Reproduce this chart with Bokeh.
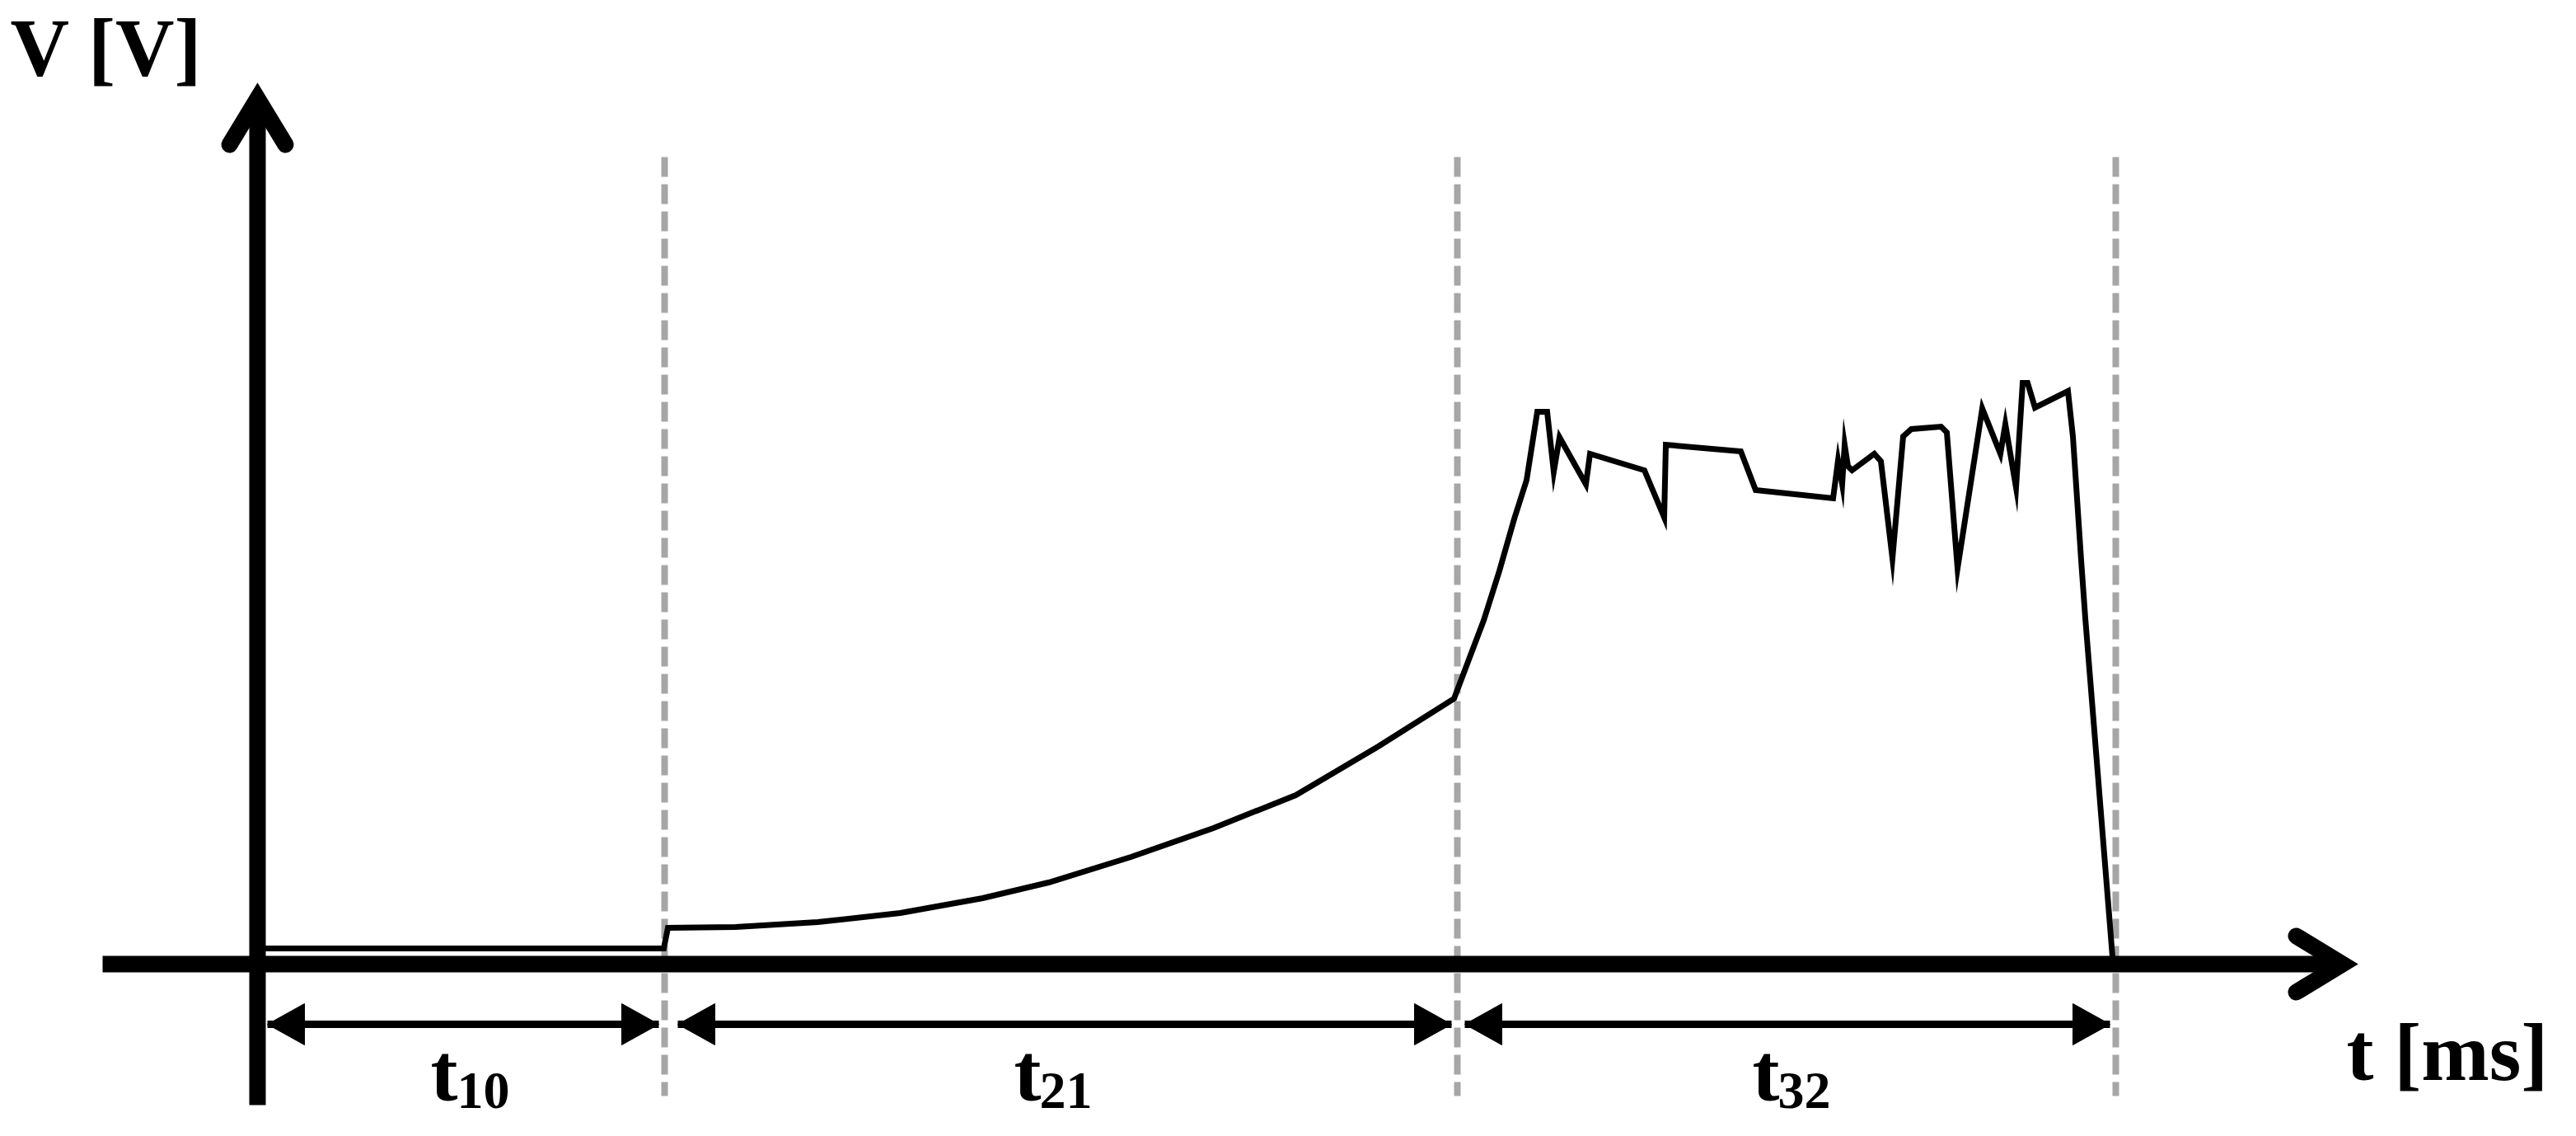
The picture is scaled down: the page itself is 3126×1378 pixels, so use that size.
from bokeh.plotting import figure
from bokeh.models import Range1d, Label
from bokeh.embed import file_html
from bokeh.resources import INLINE

# ---- data (arbitrary units: t [ms], V [V]) ----
t_ms = [0.0, 24.65, 24.9, 29.0, 34.0, 39.0, 44.0, 48.0, 53.0, 58.0, 63.0, 68.0, 72.6,
        74.4, 75.35, 76.25, 77.0, 77.65, 78.25, 78.65, 79.0, 80.6, 80.85, 84.15, 85.35,
        85.45, 90.0, 90.9, 95.6, 95.9, 96.15, 96.3, 96.5, 96.75, 98.1, 98.5, 99.2,
        99.85, 100.35, 102.15, 102.5, 103.15, 104.65, 105.75, 106.05, 106.7, 107.1,
        107.4, 107.85, 109.85, 110.15, 110.65, 110.9, 112.55]
v_V = [0.95, 0.95, 2.2, 2.25, 2.55, 3.1, 4.0, 4.95, 6.5, 8.25, 10.25, 13.2, 16.1,
       20.85, 23.85, 27.0, 29.35, 33.5, 33.5, 29.85, 31.95, 29.1, 30.95, 29.95, 27.1,
       31.5, 31.1, 28.75, 28.25, 30.55, 29.1, 31.5, 30.2, 29.95, 30.95, 30.5, 24.6,
       32.0, 32.45, 32.6, 32.25, 24.0, 33.7, 30.95, 32.75, 28.9, 35.25,
       35.25, 33.75, 34.75, 32.0, 24.5, 21.0, 0.45]

event_t = [24.7, 72.8, 112.75]          # t1, t2, t3
interval_start = [0.0, 24.7, 72.8]
interval_subs = ["10", "21", "32"]
y_label = "V [V]"
x_label = "t [ms]"

# ---- figure: 20 px per unit in both directions ----
p = figure(width=3110, height=1362, output_backend="svg", toolbar_location=None,
           x_range=Range1d(-15.6, 139.9), y_range=Range1d(-9.65, 58.45),
           x_axis_type=None, y_axis_type=None, min_border=0)
p.outline_line_alpha = 0

# dashed event lines
p.segment(x0=event_t, y0=[48.95] * 3, x1=event_t, y1=[-8.0] * 3,
          line_color="#A6A6A6", line_width=8, line_dash="24 9")

# axes drawn as thick arrows
p.segment(x0=[-9.4], y0=[0], x1=[126.5], y1=[0], line_color="black",
          line_width=20, line_cap="butt")
p.segment(x0=[0], y0=[-8.55], x1=[0], y1=[52.5], line_color="black",
          line_width=20, line_cap="butt")
p.line([-1.7, 0, 1.7], [49.7, 52.5, 49.7], line_color="black", line_width=20,
       line_join="miter", line_cap="round")
p.line([123.7, 126.5, 123.7], [1.7, 0, -1.7], line_color="black", line_width=20,
       line_join="miter", line_cap="round")

# signal
p.line(t_ms, v_V, line_color="black", line_width=7, line_join="miter")

# interval double arrows (shaft + filled triangular heads)
gap_l = [0.6, 0.8, 0.45]
gap_r = 0.35
arrow_y = -3.65
head_len = 2.25
head_half = 1.25
xs0 = [s + g for s, g in zip(interval_start, gap_l)]
xs1 = [e - gap_r for e in event_t]
p.segment(x0=xs0, y0=[arrow_y] * 3, x1=xs1, y1=[arrow_y] * 3,
          line_color="black", line_width=9)
head_xs, head_ys = [], []
for a, b in zip(xs0, xs1):
    head_xs.append([a, a + head_len, a + head_len])
    head_ys.append([arrow_y, arrow_y + head_half, arrow_y - head_half])
    head_xs.append([b, b - head_len, b - head_len])
    head_ys.append([arrow_y, arrow_y + head_half, arrow_y - head_half])
p.patches(head_xs, head_ys, fill_color="black", line_color="black", line_width=1)

font = "Liberation Serif"

# interval labels: subscripts first, then the main "t"
main_x = [10.5, 45.9, 90.7]
sub_x = [12.1, 47.45, 92.25]
for sx, sub in zip(sub_x, interval_subs):
    p.add_layout(Label(x=sx, y=-7.65, text=sub, text_font=font, text_font_style="bold",
                       text_font_size="64px", text_align="left",
                       text_baseline="alphabetic", text_color="black"))
for mx in main_x:
    p.add_layout(Label(x=mx, y=-6.6, text="t", text_font=font, text_font_style="bold",
                       text_font_size="99px", text_align="left",
                       text_baseline="alphabetic", text_color="black"))

# axis titles
p.add_layout(Label(x=126.75, y=-5.35, text=x_label, text_font=font, text_font_style="bold",
                   text_font_size="99px", text_align="left", text_baseline="alphabetic",
                   text_color="black"))
p.add_layout(Label(x=-15.0, y=55.6, text=y_label, text_font=font, text_font_style="bold",
                   text_font_size="99px", text_align="left", text_baseline="alphabetic",
                   text_color="black"))

open("out.html", "w").write(file_html(p, INLINE))
